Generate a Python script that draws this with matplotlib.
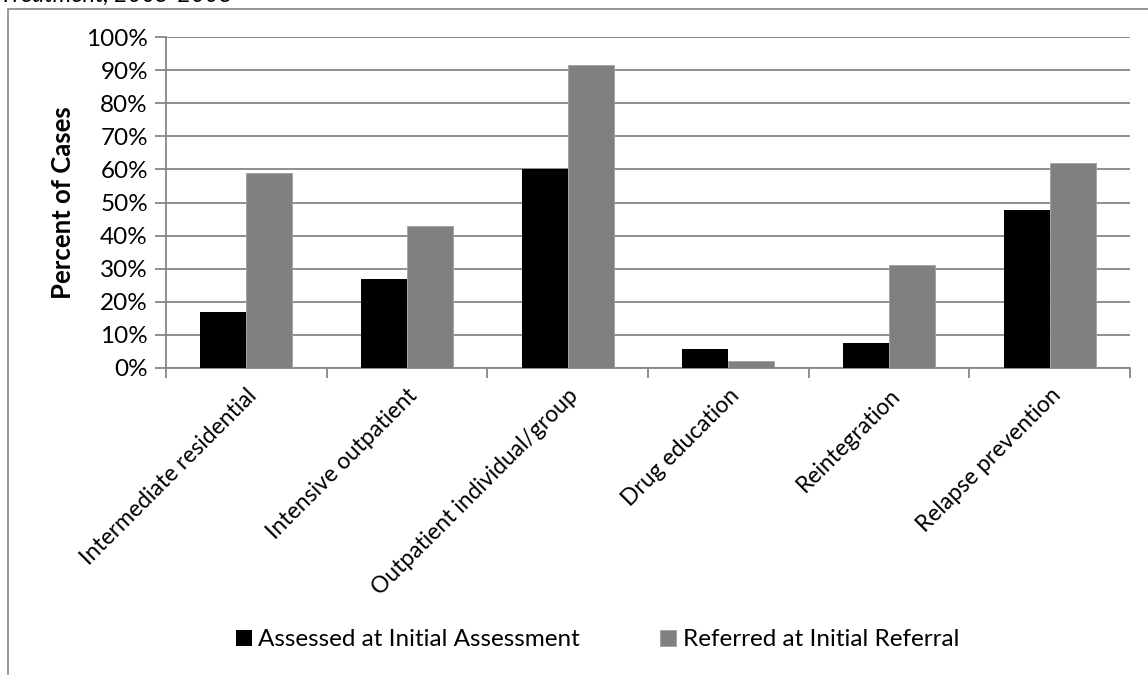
import matplotlib.pyplot as plt
import numpy as np
from matplotlib.patches import Rectangle
from matplotlib.ticker import PercentFormatter

categories = ["Intermediate residential", "Intensive outpatient", "Outpatient individual/group",
              "Drug education", "Reintegration", "Relapse prevention"]
assessed = [17, 27, 60, 5.6, 7.5, 47.7]
referred = [59, 42.8, 91.6, 2, 31.2, 61.8]
series_names = ["Assessed at Initial Assessment", "Referred at Initial Referral"]

plt.rcParams['font.family'] = ['Lato', 'DejaVu Sans']

fig = plt.figure(figsize=(11.48, 6.75), dpi=100)
ax = fig.add_axes([166 / 1148, 1 - 368 / 675, (1130 - 166) / 1148, (368 - 37) / 675])

# outer chart border (clipped by the page)
fig.patches.append(Rectangle((8 / 1148, -0.1), 1.2, 1 - 9 / 675 + 0.1, transform=fig.transFigure,
                             fill=False, edgecolor='#868686', lw=1.2))
# caption from the page above, mostly cut off
fig.text(0.0, 1 - 2 / 675, "Treatment, 2005-2008", fontsize=17, style='italic', va='baseline', ha='left')

x = np.arange(len(categories))
w = 1 / 3.5
ax.bar(x - w / 2, assessed, w, color='black', label=series_names[0], zorder=3)
ax.bar(x + w / 2, referred, w, color='#808080', edgecolor='#a0a0a0', lw=0.6,
       label=series_names[1], zorder=3)

ax.set_xlim(-0.5, len(categories) - 0.5)
ax.set_ylim(0, 100)
ax.set_yticks(np.arange(0, 101, 10))
ax.yaxis.set_major_formatter(PercentFormatter(decimals=0))
ax.grid(axis='y', color='#868686', lw=1.3, zorder=0)

ax.set_xticks(np.arange(len(categories) + 1) - 0.5)
ax.set_xticklabels([])
ax.set_xticks(x, minor=True)
ax.set_xticklabels(categories, minor=True, rotation=45, ha='right', va='top',
                   rotation_mode='anchor', fontsize=16.5)
ax.tick_params(axis='x', which='minor', length=0, pad=12)
ax.tick_params(axis='x', which='major', length=7, width=1.3, color='#868686')
ax.tick_params(axis='y', length=8, width=1.3, color='#868686', labelsize=17.5, pad=5)

for s in ['top', 'right']:
    ax.spines[s].set_visible(False)
for s in ['left', 'bottom']:
    ax.spines[s].set_color('#868686')
    ax.spines[s].set_linewidth(1.3)

ax.set_ylabel("Percent of Cases", fontsize=18.5, fontweight='bold', labelpad=8)

fig.legend(loc='center left', bbox_to_anchor=(214 / 1148, 1 - 640 / 675), ncol=2, frameon=False,
           fontsize=17.5, handlelength=0.67, handleheight=0.67, handletextpad=0.25, columnspacing=3.3)

plt.savefig('out.png', dpi=100)
